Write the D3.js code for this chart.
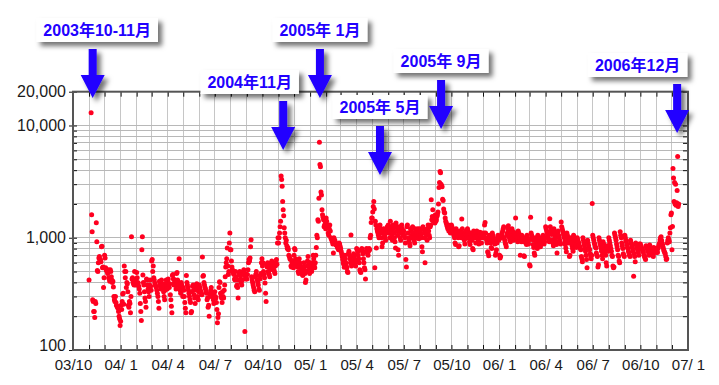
<!DOCTYPE html>
<html><head><meta charset="utf-8">
<script src="https://cdn.jsdelivr.net/npm/d3@7"></script>
<style>
body{margin:0;background:#fff}
svg{display:block}
text{white-space:pre}
</style>
</head><body>
<svg id="c" width="719" height="385"></svg>
<script>
// ---------------- DATA (daily values, one inner array per month) ----------------
// 2003: starts in November (null = no point that day)
const visits2003 = [
  [420,null,null,null,13000,1600,1130,280,270,220,220,195,270,260,1360,920,510,500,600,660,680,620,640,610,830,840,540,550,360,440],
  [700,660,540,520,510,500,480,520,440,430,410,520,500,450,420,400,410,365,300,280,270,300,265,250,245,240,235,220,200,190,165]
];
const visits2004 = [
  [180,250,230,270,315,320,255,560,500,440,500,360,400,390,330,250,240,270,260,215,300,1020,430,440,400,390,380,500,420,380,400],
  [490,440,400,395,370,350,320,260,220,183,780,1020,465,400,380,330,290,270,240,430,420,380,350,330,300,380,420,370,340],
  [620,640,500,560,440,420,395,380,370,360,340,320,300,270,235,410,390,370,350,420,390,360,380,330,300,280,340,390,420,370,350],
  [400,430,380,360,390,310,280,245,215,460,470,430,380,400,420,380,350,480,490,420,400,380,650,360,340,320,400,380,350,300],
  [360,340,300,265,235,215,460,400,380,360,340,320,300,280,265,215,220,330,370,380,340,310,290,260,350,370,390,340,300,280,330],
  [380,360,340,330,320,310,675,455,460,400,380,360,350,330,320,280,290,240,250,200,300,320,340,360,330,300,310,280,260,300],
  [330,300,290,265,230,175,195,210,360,405,400,320,300,290,265,330,300,290,340,380,450,550,600,650,810,560,470,500,900,1100,780],
  [780,620,550,520,500,480,470,430,420,500,450,370,380,360,290,420,480,500,460,430,400,380,420,470,500,520,480,146,450,430,470],
  [430,470,520,600,640,620,660,830,960,450,420,400,380,360,340,330,450,470,500,460,420,400,380,350,340,430,460,480,600,650],
  [560,600,500,470,440,395,320,270,580,550,600,500,480,470,450,520,560,600,620,580,550,600,520,500,480,560,600,640,580,900,1000],
  [900,1000,1100,1250,1400,3550,3300,2880,2100,1780,1570,1230,1100,1000,900,950,850,800,820,780,700,680,650,640,560,550,600,620,580,540],
  [700,800,780,650,620,600,560,550,500,480,650,600,560,540,500,490,470,460,550,600,520,480,400,420,500,560,620,680,600,520,480]
];
const visits2005 = [
  [600,560,520,500,540,600,700,650,560,540,600,700,820,1050,1000,1450,1400,2250,7100,4500,4300,2560,2400,1780,1600,1520,1450,1250,1300,1400,1200],
  [1500,1400,1300,1250,1100,1050,1200,1300,1150,1000,980,950,920,880,730,1000,960,940,900,860,870,850,820,800,780,900,880,840],
  [800,760,720,680,640,600,580,545,700,650,600,560,540,500,490,720,760,700,650,600,1060,560,580,620,680,720,700,650,600,560,620],
  [800,780,750,700,650,600,520,500,490,780,800,760,720,650,600,540,520,430,750,800,780,720,700,760,800,780,1000,1050,1370,1500],
  [1500,1700,1900,2100,1800,540,1400,1300,810,1200,1150,1100,1050,1000,1250,1300,1200,1100,1000,830,900,1100,1200,1150,1050,1000,950,1100,1200,1250,1150],
  [1300,1200,1100,1000,1400,1250,1150,1050,950,1300,1200,1100,1000,920,810,1350,1250,1150,1050,780,700,1250,1150,1000,950,1100,1300,1200,1100,1050],
  [1150,1050,1000,900,640,550,1250,1300,1100,1000,950,900,850,1200,1150,1050,1000,1250,1100,1000,950,900,1200,1150,1050,1000,1100,1200,1050,980,1100],
  [1200,1150,1050,1000,830,750,1250,1200,1100,1000,600,1180,1100,1050,950,1200,1300,1150,1050,1000,1250,1300,2180,1450,1550,1780,1400,1500,1400,1350,1600],
  [1400,1450,1550,1600,1700,2000,2800,3100,3900,3800,3000,2900,2850,2200,2150,1800,1700,1660,1500,1400,1350,1300,1250,1200,1300,1150,1250,1200,1100,1150],
  [1300,1250,1200,1150,1100,1050,1000,900,870,1200,1150,1100,1050,1000,830,850,1150,1100,1050,1000,1470,1200,1100,1050,1000,950,880,1100,1150,1050,1000],
  [1200,1150,1050,1000,920,870,1100,1050,1000,950,800,780,1150,1100,1050,1000,900,1100,1150,1050,1000,950,880,1080,1120,1050,1000,900,1100,1050],
  [1000,1050,1100,1300,1370,1100,1000,950,900,750,730,690,1050,1000,950,900,820,800,1100,1050,1000,950,920,880,700,730,780,900,1000,1050,950]
];
const visits2006 = [
  [960,700,660,680,1000,1050,1100,1150,1200,1250,1000,950,900,870,830,1050,1100,1200,1280,1150,1000,950,920,1050,1100,1200,1150,1000,950,1050,1100],
  [1100,1500,1050,1000,960,920,1150,1100,1050,1000,700,960,920,1050,1000,980,920,690,680,1000,960,900,870,1050,1000,920,880,960],
  [575,560,1520,1100,1050,1000,960,870,820,730,700,1000,950,900,850,800,1050,1000,960,920,880,830,1000,950,900,980,1050,950,880,920,1000],
  [1250,1200,1150,1100,1050,1000,960,920,1480,1250,1150,1100,1070,960,900,850,1200,1130,1050,1000,920,870,730,1100,1150,1050,1000,950,900,880],
  [1380,1250,1200,1150,1100,1050,1000,920,870,810,750,1100,1050,1000,950,900,680,700,1000,960,900,850,800,760,1050,1000,950,900,870,820,950],
  [1000,960,920,900,850,830,800,780,680,650,610,1000,950,900,850,800,760,700,640,540,950,900,850,800,780,720,680,650,700,2020],
  [1050,1000,950,900,870,830,810,730,700,680,550,575,1000,950,900,850,800,760,700,650,920,880,830,780,740,700,600,560,850,800,760],
  [1000,950,900,850,800,760,700,680,560,540,550,1100,1050,1000,950,880,830,780,700,680,620,600,1130,1050,1000,900,850,800,720,700,680],
  [1050,1000,950,920,870,820,800,760,730,700,680,950,900,870,830,800,760,455,720,680,610,900,870,840,800,780,740,700,880,850],
  [880,850,820,800,780,760,740,700,680,660,640,850,820,800,780,760,720,700,860,830,800,780,760,740,700,680,820,800,780,760,740],
  [780,760,740,800,830,870,900,960,1000,1020,950,900,860,820,780,760,740,720,680,640,650,900,950,1000,960,920,1100,1230,1600,1660],
  [780,1260,4140,3400,2100,3100,2000,3000,1950,2050,2630,5300,1900,2000]
];
const yearBlocks = [[2003, 10, visits2003], [2004, 0, visits2004], [2005, 0, visits2005], [2006, 0, visits2006]];

const xTickLabels = ["03/10","04/ 1","04/ 4","04/ 7","04/10","05/ 1","05/ 4","05/ 7","05/10","06/ 1","06/ 4","06/ 7","06/10","07/ 1"];
const yTickValues = [100, 1000, 10000, 20000];

const calloutText = ["2003年10-11月","2004年11月","2005年 1月","2005年 5月","2005年 9月","2006年12月"];
const calloutDate = [new Date(2003,10,8), new Date(2004,10,10), new Date(2005,0,20), new Date(2005,4,16), new Date(2005,8,11), new Date(2006,11,11)];

// ---------------- LAYOUT ----------------
const L = 73, R = 688, T = 91.7, B = 350;
const calloutTipY = [98, 150, 98, 175, 129, 133];
const calloutBoxShift = [4.5, -33.5, 0, 0, 0, -39.5];
const BLUE = "#2200ff";

const points = [];
yearBlocks.forEach(([yr, m0, months]) => {
  months.forEach((arr, mi) => {
    arr.forEach((v, di) => {
      if (v != null) points.push({date: new Date(yr, m0 + mi, di + 1), value: v});
    });
  });
});

const svg = d3.select("#c");
const x = d3.scaleTime().domain([new Date(2003,9,1), new Date(2007,0,1)]).range([L, R]);
const y = d3.scaleLog().domain([100, 20000]).range([B, T]);

const defs = svg.append("defs");
const f = defs.append("filter").attr("id","sh").attr("x","-30%").attr("y","-30%").attr("width","170%").attr("height","170%");
f.append("feDropShadow").attr("dx",4).attr("dy",4).attr("stdDeviation",2.6)
  .attr("flood-color","#000").attr("flood-opacity",0.55);

const monthTicks = d3.timeMonth.range(new Date(2003,9,1), new Date(2007,0,2));
const quarterTicks = d3.timeMonth.every(3).range(new Date(2003,9,1), new Date(2007,0,2));
const logTicks = y.ticks();

// grid
const grid = svg.append("g");
grid.selectAll(".vg").data(monthTicks).join("line")
  .attr("x1", d => x(d)).attr("x2", d => x(d)).attr("y1", T).attr("y2", B)
  .attr("stroke", "#c6c6c6").attr("stroke-width", 1).attr("shape-rendering","crispEdges");
grid.selectAll(".hg").data(logTicks).join("line")
  .attr("x1", L).attr("x2", R).attr("y1", d => y(d)).attr("y2", d => y(d))
  .attr("stroke", "#b8b8b8").attr("stroke-width", 1).attr("shape-rendering","crispEdges");

// points
svg.append("g").selectAll("circle").data(points).join("circle")
  .attr("cx", d => x(d.date)).attr("cy", d => y(d.value)).attr("r", 2.5)
  .attr("fill", "#ff0020");

// ticks
function clean(g){ g.select(".domain").remove(); g.selectAll("line").attr("stroke","#111"); }
svg.append("g").attr("transform",`translate(0,${B})`)
  .call(d3.axisTop(x).tickValues(monthTicks).tickSize(5).tickFormat("")).call(clean);
svg.append("g").attr("transform",`translate(0,${T})`)
  .call(d3.axisBottom(x).tickValues(monthTicks).tickSize(5).tickFormat("")).call(clean);
svg.append("g").attr("transform",`translate(${L},0)`)
  .call(d3.axisRight(y).tickValues(logTicks).tickSize(4).tickFormat("")).call(clean);
svg.append("g").attr("transform",`translate(${R},0)`)
  .call(d3.axisLeft(y).tickValues(logTicks).tickSize(5).tickFormat("")).call(clean);

const yl = svg.append("g").attr("transform",`translate(${L},0)`)
  .call(d3.axisLeft(y).tickValues(yTickValues).tickSize(4).tickPadding(3).tickFormat(d3.format(",")));
yl.call(clean);
yl.selectAll("text").attr("font-family","'Liberation Sans', Arial, Helvetica, sans-serif")
  .attr("font-size", 16).attr("fill","#1a1a1a")
  .attr("dy", d => d === 100 ? "0.0em" : "0.32em");

const xl = svg.append("g").attr("transform",`translate(0,${B})`)
  .call(d3.axisBottom(x).tickValues(quarterTicks).tickSize(0).tickPadding(9).tickFormat((d,i) => xTickLabels[i]));
xl.call(clean);
xl.selectAll("text").attr("font-family","'Liberation Sans', Arial, Helvetica, sans-serif")
  .attr("font-size", 15).attr("fill","#1a1a1a");

// frame
svg.append("rect").attr("x", L).attr("y", T).attr("width", R - L).attr("height", B - T)
  .attr("fill","none").attr("stroke","#555").attr("stroke-width",2);

// callouts
calloutText.forEach((t, i) => {
  const tx = x(calloutDate[i]);
  const tipY = calloutTipY[i];
  const top = tipY - 49;
  const g = svg.append("g");
  g.append("path")
    .attr("d", `M${tx-4},${top} L${tx+4},${top} L${tx+4},${top+26} L${tx+12},${top+26} L${tx},${tipY} L${tx-12},${top+26} L${tx-4},${top+26} Z`)
    .attr("fill", BLUE).attr("filter","url(#sh)");
  const cx = tx + calloutBoxShift[i];
  const boxBottom = top - 7;
  const box = g.append("rect").attr("fill","#fff").attr("filter","url(#sh)");
  const txt = g.append("text").text(t)
    .attr("font-family","'Liberation Sans', Arial, 'Noto Sans CJK JP', sans-serif")
    .attr("font-weight","bold").attr("font-size",16).attr("fill",BLUE)
    .attr("text-anchor","middle").attr("x", cx).attr("y", boxBottom - 12 + 5.8);
  const w = txt.node().getComputedTextLength() + 14;
  box.attr("x", cx - w/2).attr("y", boxBottom - 24).attr("width", w).attr("height", 24);
});
</script>
</body></html>
